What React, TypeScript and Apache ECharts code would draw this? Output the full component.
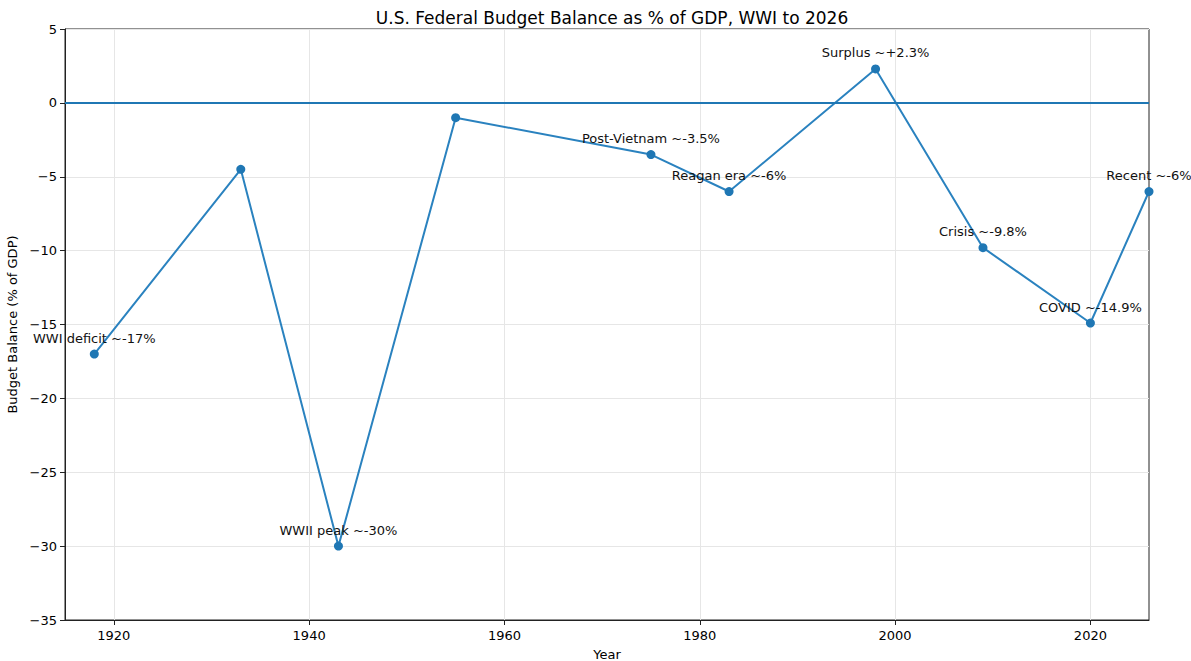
import React, { useEffect, useRef } from "react";
import * as echarts from "echarts";

const years = [1918, 1933, 1943, 1955, 1975, 1983, 1998, 2009, 2020, 2026];
const balances = [-17, -4.5, -30, -1, -3.5, -6, 2.3, -9.8, -14.9, -6];
const annotations = [
  "WWI deficit ~-17%",
  "",
  "WWII peak ~-30%",
  "",
  "Post-Vietnam ~-3.5%",
  "Reagan era ~-6%",
  "Surplus ~+2.3%",
  "Crisis ~-9.8%",
  "COVID ~-14.9%",
  "Recent ~-6%",
];
const xTicks = [1920, 1940, 1960, 1980, 2000, 2020];

const FONT = "DejaVu Sans";

export default function App() {
  const ref = useRef<HTMLDivElement>(null);
  useEffect(() => {
    if (!ref.current) return;
    const chart = echarts.init(ref.current, undefined, { renderer: "svg" });
    chart.setOption({
      animation: false,
      backgroundColor: "#ffffff",
      textStyle: { fontFamily: FONT },
      title: {
        text: "U.S. Federal Budget Balance as % of GDP, WWI to 2026",
        left: 607,
        textAlign: "center",
        top: 4,
        textStyle: { fontFamily: FONT, fontSize: 17, fontWeight: "normal", color: "#000" },
      },
      grid: {
        left: 65,
        right: 42,
        top: 29,
        bottom: 41,
        containLabel: false,
        outerBoundsMode: "none",
        show: true,
        borderColor: "#222",
        borderWidth: 1,
        backgroundColor: "transparent",
      },
      xAxis: {
        type: "value",
        min: 1915,
        max: 2026,
        name: "Year",
        nameLocation: "middle",
        nameGap: 28,
        nameTextStyle: { fontFamily: FONT, fontSize: 13, color: "#000" },
        axisLine: { show: true, onZero: false, lineStyle: { color: "#222", width: 1 } },
        axisTick: { show: true, customValues: xTicks, length: 5, lineStyle: { color: "#222" } },
        axisLabel: {
          customValues: xTicks,
          fontFamily: FONT,
          fontSize: 13,
          color: "#000",
          margin: 9,
          formatter: (v: number) => String(v),
        },
        splitLine: { show: true, lineStyle: { color: "#e6e6e6", width: 1 } },
      },
      yAxis: {
        type: "value",
        min: -35,
        max: 5,
        interval: 5,
        name: "Budget Balance (% of GDP)",
        nameLocation: "middle",
        nameGap: 46,
        nameRotate: 90,
        nameTextStyle: { fontFamily: FONT, fontSize: 13, color: "#000" },
        axisLine: { show: true, lineStyle: { color: "#222", width: 1 } },
        axisTick: { show: true, length: 5, lineStyle: { color: "#222" } },
        axisLabel: {
          fontFamily: FONT,
          fontSize: 13,
          color: "#000",
          margin: 8,
          formatter: (v: number) => (v < 0 ? "\u2212" + Math.abs(v) : String(v)),
        },
        splitLine: { show: true, lineStyle: { color: "#e6e6e6", width: 1 } },
      },
      series: [
        {
          type: "line",
          data: [],
          silent: true,
          markLine: {
            silent: true,
            symbol: "none",
            label: { show: false },
            lineStyle: { color: "#1f77b4", width: 2, type: "solid" },
            data: [{ yAxis: 0 }],
          },
          z: 2,
        },
        {
          type: "line",
          data: years.map((y, i) => ({
            value: [y, balances[i]],
            label: { show: annotations[i] !== "", formatter: annotations[i] },
          })),
          lineStyle: { color: "#2a82bf", width: 2 },
          itemStyle: { color: "#1f77b4" },
          symbol: "circle",
          symbolSize: 9,
          showSymbol: true,
          clip: false,
          label: {
            show: true,
            position: "top",
            distance: 5,
            fontFamily: FONT,
            fontSize: 13,
            color: "#111",
          },
          z: 3,
        },
      ],
    });
    return () => chart.dispose();
  }, []);
  return (
    <div
      ref={ref}
      style={{ position: "fixed", left: 0, top: 0, width: 1191, height: 661 }}
    />
  );
}
